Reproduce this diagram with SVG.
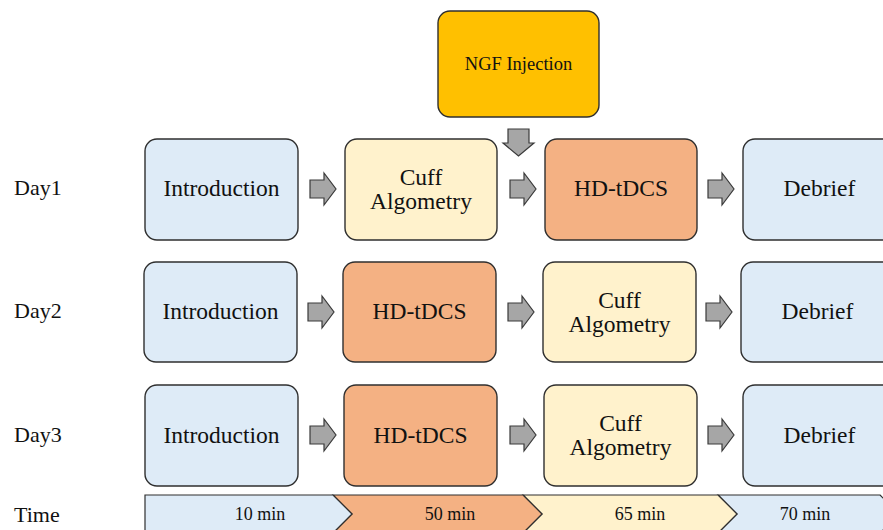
<svg xmlns="http://www.w3.org/2000/svg" width="883" height="530" viewBox="0 0 883 530">
  <style>
    .box { stroke: #2f2f2f; stroke-width: 1.4; }
    .blue { fill: #DEEBF7; }
    .cream { fill: #FFF2CC; }
    .orange { fill: #F4B183; }
    .gold { fill: #FFC000; }
    .lbl { font-family: "Liberation Serif", "Times New Roman", serif; font-size: 23.5px; fill: #111; text-anchor: middle; }
    .day { font-family: "Liberation Serif", "Times New Roman", serif; font-size: 22px; fill: #111; }
    .tm { font-family: "Liberation Serif", "Times New Roman", serif; font-size: 18px; fill: #111; text-anchor: middle; }
    .ngf { font-family: "Liberation Serif", "Times New Roman", serif; font-size: 18.5px; fill: #111; text-anchor: middle; }
    .arr { fill: #A6A6A6; stroke: #3a3a3a; stroke-width: 1.2; stroke-linejoin: miter; }
    .seg { stroke: #2f2f2f; stroke-width: 1.2; }
  </style>
  <defs>
    <!-- block arrow pointing right, origin at left edge / vertical centre -->
    <path id="rarrow" d="M0,-9 H14 V-16 L26,0 L14,16 V9 H0 Z"/>
  </defs>

  <rect width="883" height="530" fill="#ffffff"/>

  <!-- row labels -->
  <g id="labels">
    <text class="day" x="14" y="195">Day1</text>
    <text class="day" x="14" y="318">Day2</text>
    <text class="day" x="14" y="442">Day3</text>
    <text class="day" x="14" y="522">Time</text>
  </g>

  <!-- NGF injection -->
  <g id="ngf">
    <rect class="box gold" x="438" y="11" width="161" height="106" rx="12"/>
    <text class="ngf" x="518.5" y="70">NGF Injection</text>
  </g>

  <!-- Day 1 -->
  <g id="d1-intro">
    <rect class="box blue" x="145" y="139" width="153" height="101" rx="12"/>
    <text class="lbl" x="221.5" y="196">Introduction</text>
  </g>
  <g id="d1-cuff">
    <rect class="box cream" x="345" y="139" width="152" height="101" rx="12"/>
    <text class="lbl" x="421" y="185">Cuff</text>
    <text class="lbl" x="421" y="209">Algometry</text>
  </g>
  <g id="d1-tdcs">
    <rect class="box orange" x="545" y="139" width="152" height="101" rx="12"/>
    <text class="lbl" x="621" y="196">HD-tDCS</text>
  </g>
  <g id="d1-debrief">
    <rect class="box blue" x="743" y="139" width="153" height="101" rx="12"/>
    <text class="lbl" x="819.5" y="196">Debrief</text>
  </g>

  <!-- Day 2 -->
  <g id="d2-intro">
    <rect class="box blue" x="144" y="262" width="153" height="100" rx="12"/>
    <text class="lbl" x="220.5" y="319">Introduction</text>
  </g>
  <g id="d2-tdcs">
    <rect class="box orange" x="343" y="262" width="153" height="100" rx="12"/>
    <text class="lbl" x="419.5" y="319">HD-tDCS</text>
  </g>
  <g id="d2-cuff">
    <rect class="box cream" x="543" y="262" width="153" height="100" rx="12"/>
    <text class="lbl" x="619.5" y="308">Cuff</text>
    <text class="lbl" x="619.5" y="332">Algometry</text>
  </g>
  <g id="d2-debrief">
    <rect class="box blue" x="741" y="262" width="153" height="100" rx="12"/>
    <text class="lbl" x="817.5" y="319">Debrief</text>
  </g>

  <!-- Day 3 -->
  <g id="d3-intro">
    <rect class="box blue" x="145" y="385" width="153" height="101" rx="12"/>
    <text class="lbl" x="221.5" y="443">Introduction</text>
  </g>
  <g id="d3-tdcs">
    <rect class="box orange" x="344" y="385" width="153" height="101" rx="12"/>
    <text class="lbl" x="420.5" y="443">HD-tDCS</text>
  </g>
  <g id="d3-cuff">
    <rect class="box cream" x="544" y="385" width="153" height="101" rx="12"/>
    <text class="lbl" x="620.5" y="431">Cuff</text>
    <text class="lbl" x="620.5" y="455">Algometry</text>
  </g>
  <g id="d3-debrief">
    <rect class="box blue" x="743" y="385" width="153" height="101" rx="12"/>
    <text class="lbl" x="819.5" y="443">Debrief</text>
  </g>

  <!-- connectors -->
  <g id="connectors">
    <path class="arr" d="M508,129 H529 V143 H534 L518.5,156 L503,143 H508 Z"/>
    <use href="#rarrow" class="arr" x="310" y="189"/>
    <use href="#rarrow" class="arr" x="510" y="189"/>
    <use href="#rarrow" class="arr" x="708" y="189"/>
    <use href="#rarrow" class="arr" x="308" y="312"/>
    <use href="#rarrow" class="arr" x="508" y="312"/>
    <use href="#rarrow" class="arr" x="706" y="312"/>
    <use href="#rarrow" class="arr" x="310" y="435"/>
    <use href="#rarrow" class="arr" x="510" y="435"/>
    <use href="#rarrow" class="arr" x="708" y="435"/>
  </g>

  <!-- time line -->
  <g id="timeline">
    <path class="seg blue" d="M880,495 L899,514 L880,533 H718 L737,514 L718,495 Z"/>
    <path class="seg cream" d="M718,495 L737,514 L718,533 H523 L542,514 L523,495 Z"/>
    <path class="seg orange" d="M523,495 L542,514 L523,533 H333 L352,514 L333,495 Z"/>
    <path class="seg blue" d="M145,495 H333 L352,514 L333,533 H145 Z"/>
    <text class="tm" x="260" y="520">10 min</text>
    <text class="tm" x="450" y="520">50 min</text>
    <text class="tm" x="640" y="520">65 min</text>
    <text class="tm" x="805" y="520">70 min</text>
  </g>
</svg>
